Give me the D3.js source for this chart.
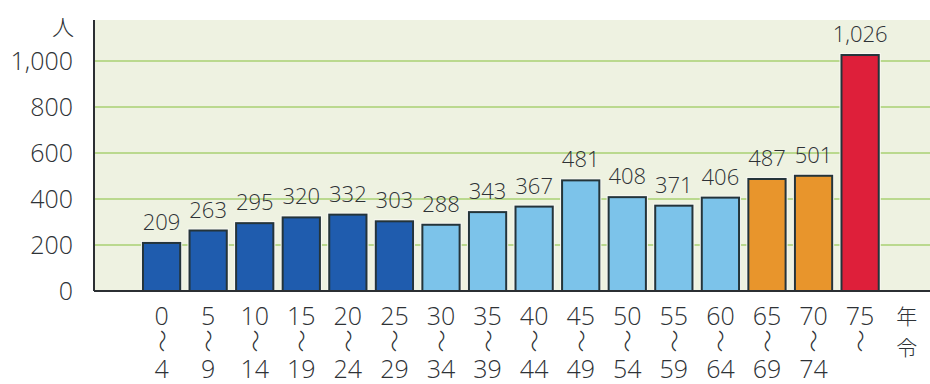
<!DOCTYPE html>
<meta charset="utf-8">
<script src="https://d3js.org/d3.v7.min.js"></script>
<style>
  body { margin: 0; background: #fff; }
  text { font-family: "Open Sans", "Noto Sans", sans-serif; font-weight: 300; fill: #2e3236; }
</style>
<body>
<div id="chart"></div>
<script>
    // age groups (top / bottom of the vertical label) and counts
    const ageFrom = ["0", "5", "10", "15", "20", "25", "30", "35", "40", "45", "50", "55", "60", "65", "70", "75"];
    const ageTo = ["4", "9", "14", "19", "24", "29", "34", "39", "44", "49", "54", "59", "64", "69", "74", ""];
    const counts = [209, 263, 295, 320, 332, 303, 288, 343, 367, 481, 408, 371, 406, 487, 501, 1026];
    const groups = ["d", "d", "d", "d", "d", "d", "l", "l", "l", "l", "l", "l", "l", "o", "o", "r"];
    const yTicks = [0, 200, 400, 600, 800, 1000];

    const colors = {d: "#1f5cae", l: "#7cc3ea", o: "#e8952c", r: "#de1f3a"};

    const W = 930, H = 384;
    const axisX = 94, baseY = 291, topY = 20;

    const svg = d3.select("#chart").append("svg")
        .attr("width", W)
        .attr("height", H);

    // plot background
    svg.append("rect")
        .attr("x", axisX).attr("y", topY)
        .attr("width", W - axisX).attr("height", baseY - topY)
        .style("fill", "#eef2e1");

    const y = d3.scaleLinear()
        .domain([0, 1000])
        .range([baseY, 61]);

    const x = d3.scaleBand()
        .domain(d3.range(counts.length))
        .range([138.3, 883.4])
        .paddingInner(0.2)
        .paddingOuter(0.1);

    // gridlines
    svg.selectAll(".grid")
        .data(yTicks.filter(d => d > 0))
        .enter().append("line")
        .attr("x1", axisX).attr("x2", W)
        .attr("y1", d => y(d)).attr("y2", d => y(d))
        .style("stroke", "#a9d072")
        .style("stroke-width", 1.5);

    // y tick labels
    svg.selectAll(".ytick")
        .data(yTicks)
        .enter().append("text")
        .attr("x", 73)
        .attr("y", d => y(d) + 9)
        .attr("text-anchor", "end")
        .style("font-size", "25px")
        .text(d => d3.format(",")(d));

    svg.append("text")
        .attr("x", 63).attr("y", 35)
        .attr("text-anchor", "middle")
        .style("font-family", "'Noto Sans CJK JP', sans-serif")
        .style("font-size", "22px")
        .text("人");

    // bars: white halo then outlined bar
    const bars = svg.selectAll(".bar")
        .data(counts)
        .enter().append("g");

    bars.append("rect")
        .attr("x", (d, i) => x(i) - 2)
        .attr("y", d => y(d) - 2)
        .attr("width", x.bandwidth() + 4)
        .attr("height", d => baseY - y(d) + 2)
        .style("fill", "#f8f8f2");

    bars.append("rect")
        .attr("x", (d, i) => x(i))
        .attr("y", d => y(d))
        .attr("width", x.bandwidth())
        .attr("height", d => baseY - y(d))
        .style("fill", (d, i) => colors[groups[i]])
        .style("stroke", "#24343a")
        .style("stroke-width", 2);

    bars.append("text")
        .attr("x", (d, i) => x(i) + x.bandwidth() / 2)
        .attr("y", d => y(d) - 13)
        .attr("text-anchor", "middle")
        .style("font-size", "22px")
        .text(d => d3.format(",")(d));

    // axes
    svg.append("line")
        .attr("x1", axisX).attr("x2", axisX)
        .attr("y1", topY).attr("y2", baseY)
        .style("stroke", "#2b2f33").style("stroke-width", 2);
    svg.append("line")
        .attr("x1", axisX).attr("x2", W)
        .attr("y1", baseY).attr("y2", baseY)
        .style("stroke", "#2b2f33").style("stroke-width", 2);

    // x labels: from / wave / to
    const xl = svg.selectAll(".xl")
        .data(ageFrom)
        .enter().append("g")
        .attr("transform", (d, i) => "translate(" + (x(i) + x.bandwidth() / 2) + ",0)");

    xl.append("text")
        .attr("y", 325)
        .attr("text-anchor", "middle")
        .style("font-size", "25px")
        .text(d => d);

    xl.append("text")
        .attr("transform", "translate(0,341) rotate(90)")
        .attr("text-anchor", "middle")
        .attr("dy", "0.35em")
        .style("font-family", "'Noto Sans CJK JP', sans-serif")
        .style("font-size", "23px")
        .text("〜");

    xl.append("text")
        .attr("y", 378)
        .attr("text-anchor", "middle")
        .style("font-size", "25px")
        .text((d, i) => ageTo[i]);

    const lastX = x(counts.length - 1) + x.bandwidth() / 2 + x.step();
    svg.append("text")
        .attr("x", lastX).attr("y", 324)
        .attr("text-anchor", "middle")
        .style("font-family", "'Noto Sans CJK JP', sans-serif")
        .style("font-size", "21px")
        .text("年");
    svg.append("text")
        .attr("x", lastX).attr("y", 355)
        .attr("text-anchor", "middle")
        .style("font-family", "'Noto Sans CJK JP', sans-serif")
        .style("font-size", "21px")
        .text("令");
</script>
</body>
